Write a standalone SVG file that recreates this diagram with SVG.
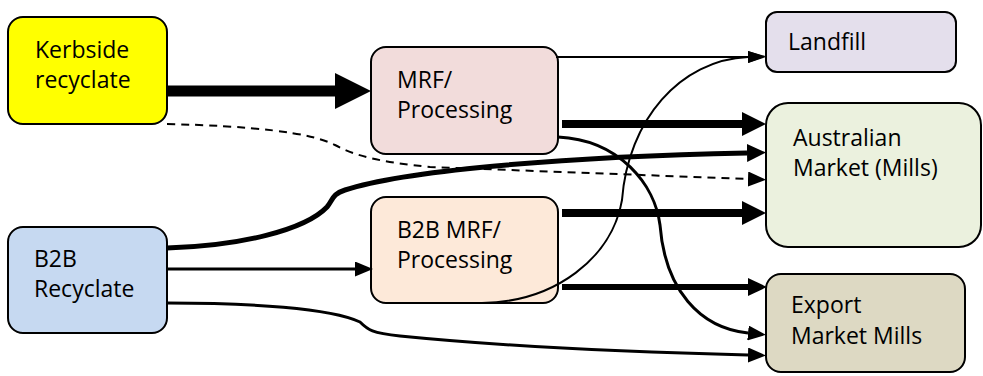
<svg xmlns="http://www.w3.org/2000/svg" width="983" height="376" viewBox="0 0 983 376">
<style>
  .box { stroke: #000; stroke-width: 2; }
  .lbl { font-family: "Open Sans", "Liberation Sans", sans-serif; font-size: 23px; fill: #000; }
  .c { fill: none; stroke: #000; stroke-linecap: butt; }
  .dash { stroke-dasharray: 8 6; }
</style>
<defs>
  <marker id="aXL" markerUnits="userSpaceOnUse" markerWidth="36" markerHeight="36" refX="0" refY="18" orient="auto"><path d="M0,0 L36,18 L0,36 z" fill="#000"/></marker>
  <marker id="aL" markerUnits="userSpaceOnUse" markerWidth="24" markerHeight="24" refX="0" refY="12" orient="auto"><path d="M0,0 L24,12 L0,24 z" fill="#000"/></marker>
  <marker id="aM" markerUnits="userSpaceOnUse" markerWidth="19" markerHeight="18" refX="0" refY="9" orient="auto"><path d="M0,0 L19,9 L0,18 z" fill="#000"/></marker>
  <marker id="aS" markerUnits="userSpaceOnUse" markerWidth="18" markerHeight="15" refX="0" refY="7.5" orient="auto"><path d="M0,0 L18,7.5 L0,15 z" fill="#000"/></marker>
  <marker id="aXS" markerUnits="userSpaceOnUse" markerWidth="18" markerHeight="12" refX="0" refY="6" orient="auto"><path d="M0,0 L18,6 L0,12 z" fill="#000"/></marker>
</defs>

<g id="kerbside">
  <rect class="box" x="8" y="17" width="159" height="107" rx="15" fill="#FFFF00"/>
  <text class="lbl" x="35" y="58">Kerbside</text>
  <text class="lbl" x="35" y="88">recyclate</text>
</g>
<g id="mrf">
  <rect class="box" x="371" y="47" width="187" height="107" rx="15" fill="#F2DCDB"/>
  <text class="lbl" x="397" y="88">MRF/</text>
  <text class="lbl" x="397" y="118">Processing</text>
</g>
<g id="b2b">
  <rect class="box" x="8" y="227" width="159" height="106" rx="15" fill="#C6D9F1"/>
  <text class="lbl" x="34" y="267">B2B</text>
  <text class="lbl" x="34" y="297">Recyclate</text>
</g>
<g id="b2bmrf">
  <rect class="box" x="371" y="197" width="187" height="106" rx="15" fill="#FDE9D9"/>
  <text class="lbl" x="397" y="238">B2B MRF/</text>
  <text class="lbl" x="397" y="268">Processing</text>
</g>
<g id="landfill">
  <rect class="box" x="766" y="12" width="190" height="60" rx="11" fill="#E4DFEC"/>
  <text class="lbl" x="788" y="50">Landfill</text>
</g>
<g id="australian">
  <rect class="box" x="766" y="103" width="215" height="144" rx="22" fill="#EBF1DE"/>
  <text class="lbl" x="793" y="146">Australian</text>
  <text class="lbl" x="793" y="176">Market (Mills)</text>
</g>
<g id="export">
  <rect class="box" x="766" y="274" width="199" height="98" rx="15" fill="#DDD9C3"/>
  <text class="lbl" x="791" y="313">Export</text>
  <text class="lbl" x="791" y="344">Market Mills</text>
</g>

<g id="connectors">
  <path class="c" d="M167,91 L335,91" stroke-width="11" marker-end="url(#aXL)"/>
  <path class="c" d="M556,57 L748,57" stroke-width="2" marker-end="url(#aXS)"/>
  <path class="c" d="M562,124 L742,124" stroke-width="8" marker-end="url(#aL)"/>
  <path class="c" d="M558,137 C620,140 655,185 660,225 C665,290 700,328 748,333" stroke-width="3" marker-end="url(#aS)"/>
  <path class="c" d="M167,248 C240,246 305,230 327,207 C333,200 332,194 345,190 C400,172 550,157 747,153" stroke-width="5" marker-end="url(#aM)"/>
  <path class="c dash" d="M167,124 C250,126 310,132 335,145 C355,156 380,162 430,167 L748,179" stroke-width="2" marker-end="url(#aS)"/>
  <path class="c" d="M167,269 L355,269" stroke-width="3" marker-end="url(#aS)"/>
  <path class="c" d="M167,303 C250,303 330,308 360,322 C368,330 372,333 400,336 C500,346 620,352 748,355" stroke-width="3" marker-end="url(#aS)"/>
  <path class="c" d="M562,213 L742,213" stroke-width="8" marker-end="url(#aL)"/>
  <path class="c" d="M562,287 L748,287" stroke-width="6" marker-end="url(#aM)"/>
  <path class="c" d="M482,303 C555,302 612,258 622,200 C628,120 680,60 748,57" stroke-width="2" marker-end="url(#aXS)"/>
</g>
</svg>
